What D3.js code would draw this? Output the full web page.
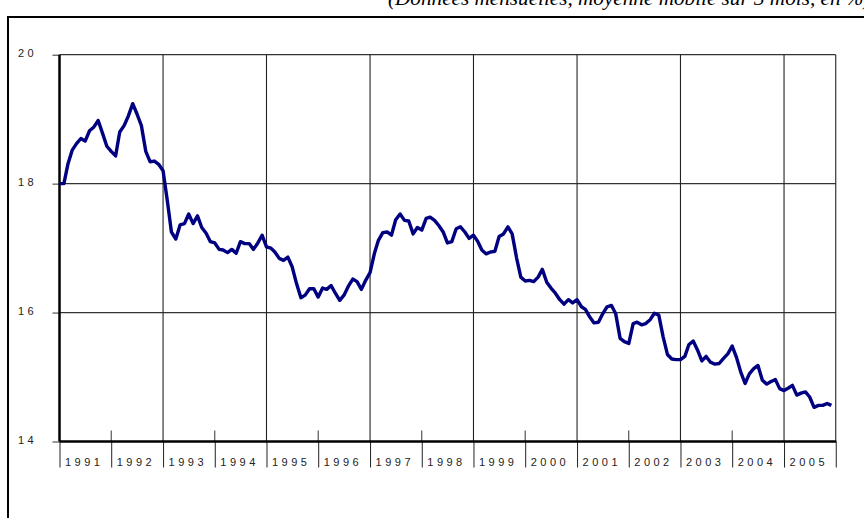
<!DOCTYPE html>
<html>
<head>
<meta charset="utf-8">
<script src="https://cdn.jsdelivr.net/npm/d3@7"></script>
<style>
  body { margin: 0; background: #fff; }
  svg { display: block; }
</style>
</head>
<body>
<div id="chart"></div>
<script>
// monthly values, Jan 1991 -> Dec 2005 (3-month moving average, %)
var values = [
  18.00, 18.00, 18.30, 18.52, 18.62, 18.70, 18.66, 18.82, 18.88, 18.98, 18.78, 18.58,
  18.50, 18.43, 18.80, 18.90, 19.05, 19.24, 19.08, 18.90, 18.50, 18.34, 18.35, 18.30,
  18.20, 17.72, 17.25, 17.14, 17.36, 17.38, 17.53, 17.38, 17.50, 17.32, 17.23, 17.10,
  17.08, 16.98, 16.97, 16.93, 16.98, 16.92, 17.10, 17.07, 17.07, 16.98, 17.08, 17.20,
  17.02, 17.00, 16.94, 16.84, 16.81, 16.86, 16.71, 16.45, 16.23, 16.27, 16.37, 16.37,
  16.24, 16.38, 16.36, 16.42, 16.30, 16.19, 16.27, 16.41, 16.52, 16.48, 16.36, 16.50,
  16.62, 16.92, 17.12, 17.24, 17.25, 17.20, 17.44, 17.53, 17.43, 17.42, 17.22, 17.32,
  17.28, 17.46, 17.48, 17.43, 17.35, 17.25, 17.08, 17.10, 17.30, 17.33, 17.25, 17.15,
  17.20, 17.10, 16.97, 16.91, 16.94, 16.95, 17.18, 17.22, 17.33, 17.22, 16.85, 16.55,
  16.49, 16.50, 16.48, 16.55, 16.67, 16.47, 16.38, 16.30, 16.20, 16.13, 16.20, 16.15,
  16.20, 16.09, 16.05, 15.93, 15.84, 15.85, 15.98, 16.09, 16.11, 15.98, 15.60, 15.55,
  15.52, 15.83, 15.85, 15.81, 15.83, 15.89, 15.99, 15.96, 15.62, 15.35, 15.28, 15.27,
  15.27, 15.32, 15.50, 15.56, 15.42, 15.25, 15.32, 15.23, 15.20, 15.21, 15.29, 15.36,
  15.48, 15.30, 15.08, 14.90, 15.05, 15.13, 15.18, 14.95, 14.89, 14.93, 14.96, 14.82,
  14.79, 14.83, 14.87, 14.72, 14.75, 14.77, 14.69, 14.53, 14.56, 14.56, 14.59, 14.56
];

var years = [1991, 1992, 1993, 1994, 1995, 1996, 1997, 1998, 1999, 2000, 2001, 2002, 2003, 2004, 2005];
var yTicks = [14, 16, 18, 20];
var subtitle = "(Données mensuelles, moyenne mobile sur 3 mois, en %)";

// plot box (pixels)
var W = 864, H = 518;
var pLeft = 59.5, pRight = 835.75, pTop = 54.7, pBottom = 441.5;

var data = values.map(function(v, i) { return {date: new Date(1991, i, 1), v: v}; });

var x = d3.scaleTime()
    .domain([new Date(1991, 0, 1), new Date(2006, 0, 1)])
    .range([pLeft, pRight]);
var y = d3.scaleLinear().domain([14, 20]).range([pBottom, pTop]);

var svg = d3.select("#chart").append("svg")
    .attr("width", W)
    .attr("height", H);

// outer frame (runs off the page on the right and bottom)
svg.append("rect")
    .attr("x", 8).attr("y", 17)
    .attr("width", 900).attr("height", 600)
    .attr("fill", "none")
    .attr("stroke", "#000")
    .attr("stroke-width", 2);

// subtitle, cut by the top of the page as in the source
svg.append("text")
    .attr("x", 388)
    .attr("y", 5)
    .attr("font-family", "'Liberation Serif', 'Times New Roman', serif")
    .attr("font-style", "italic")
    .attr("font-size", 21.2)
    .attr("fill", "#000")
    .text(subtitle);

// horizontal grid
svg.append("g")
  .selectAll("line")
  .data(yTicks.filter(function(d) { return d > 14; }))
  .join("line")
    .attr("x1", pLeft).attr("x2", pRight)
    .attr("y1", function(d) { return y(d); })
    .attr("y2", function(d) { return y(d); })
    .attr("stroke", "#333")
    .attr("stroke-width", 1.2);

// vertical grid every two years, plus the right edge
var gridYears = [1993, 1995, 1997, 1999, 2001, 2003, 2005, 2006];
svg.append("g")
  .selectAll("line")
  .data(gridYears)
  .join("line")
    .attr("x1", function(d) { return x(new Date(d, 0, 1)); })
    .attr("x2", function(d) { return x(new Date(d, 0, 1)); })
    .attr("y1", pTop).attr("y2", pBottom)
    .attr("stroke", "#222")
    .attr("stroke-width", 1.1);

// small ticks above the axis in between
var midYears = [1992, 1994, 1996, 1998, 2000, 2002, 2004];
svg.append("g")
  .selectAll("line")
  .data(midYears)
  .join("line")
    .attr("x1", function(d) { return x(new Date(d, 0, 1)); })
    .attr("x2", function(d) { return x(new Date(d, 0, 1)); })
    .attr("y1", 430.5).attr("y2", pBottom)
    .attr("stroke", "#333")
    .attr("stroke-width", 1);

// y axis
var yAxis = svg.append("g")
    .attr("transform", "translate(" + pLeft + ",0)")
    .call(d3.axisLeft(y).tickValues(yTicks).tickSize(7).tickFormat(d3.format("d")));
yAxis.select(".domain").remove();
yAxis.selectAll(".tick line").attr("stroke", "#333");
yAxis.selectAll(".tick text")
    .attr("x", 18 - pLeft)
    .attr("dy", "0.2em")
    .attr("text-anchor", "start")
    .attr("font-family", "'Liberation Sans', Arial, sans-serif")
    .attr("font-size", 11)
    .attr("fill", "#222")
    .style("letter-spacing", "3.5px");

// x axis: year separators under the axis, labels between them
var bounds = years.concat([2006]).map(function(d) { return new Date(d, 0, 1); });
var xAxis = svg.append("g")
    .attr("transform", "translate(0," + pBottom + ")")
    .call(d3.axisBottom(x).tickValues(bounds).tickSize(26)
      .tickFormat(function(d) { return d.getFullYear() < 2006 ? d.getFullYear() : ""; }));
xAxis.select(".domain").remove();
xAxis.selectAll(".tick line").attr("stroke", "#222");
xAxis.selectAll(".tick text")
    .attr("x", 5)
    .attr("y", 21)
    .attr("dy", "0.35em")
    .attr("text-anchor", "start")
    .attr("font-family", "'Liberation Sans', Arial, sans-serif")
    .attr("font-size", 11)
    .attr("fill", "#222")
    .style("letter-spacing", "3.5px");

// main axes (thick)
svg.append("line")
    .attr("x1", pLeft).attr("x2", pLeft)
    .attr("y1", pTop).attr("y2", pBottom)
    .attr("stroke", "#000").attr("stroke-width", 2.5);
svg.append("line")
    .attr("x1", pLeft).attr("x2", pRight + 0.5)
    .attr("y1", pBottom).attr("y2", pBottom)
    .attr("stroke", "#000").attr("stroke-width", 2.5);

// the series
var line = d3.line()
    .x(function(d) { return x(d.date); })
    .y(function(d) { return y(d.v); });

svg.append("path")
    .datum(data)
    .attr("fill", "none")
    .attr("stroke", "#000080")
    .attr("stroke-width", 3.4)
    .attr("stroke-linejoin", "round")
    .attr("d", line);
</script>
</body>
</html>
